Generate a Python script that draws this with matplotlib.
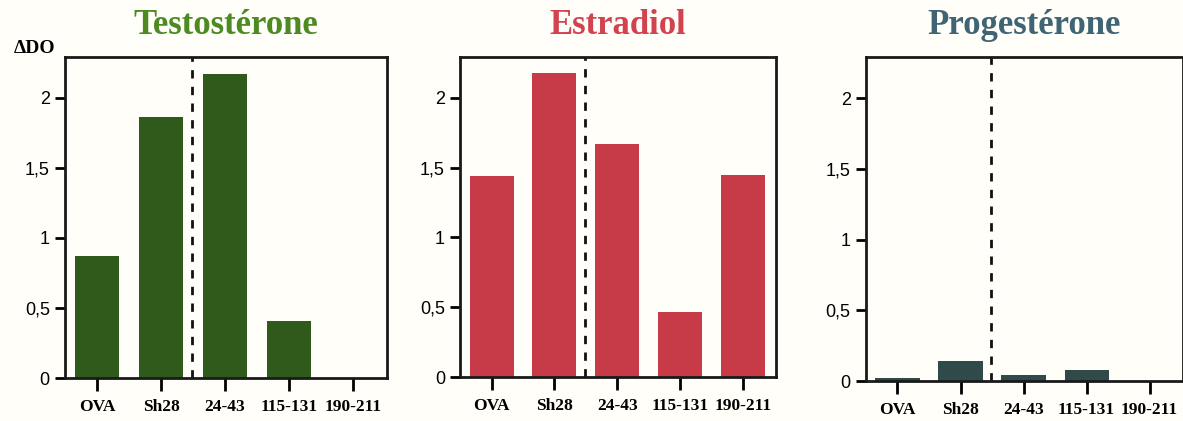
import matplotlib.pyplot as plt

# données : densité optique par peptide pour chaque hormone
peptides = ['OVA', 'Sh28', '24-43', '115-131', '190-211']
testosterone = [0.87, 1.86, 2.17, 0.41, 0.0]
estradiol = [1.44, 2.18, 1.67, 0.47, 1.45]
progesterone = [0.02, 0.14, 0.04, 0.08, 0.0]

titres = ['Testostérone', 'Estradiol', 'Progestérone']
series = [testosterone, estradiol, progesterone]
couleurs_titre = ['#4d8a22', '#d2434f', '#3f6474']
couleurs_barre = ['#2f5a1c', '#c73b49', '#2f4a48']

plt.rcParams['font.family'] = ['Liberation Serif', 'DejaVu Serif']

fig = plt.figure(figsize=(11.83, 4.21), dpi=100)
fig.patch.set_facecolor('#fffef9')

positions = [[0.055, 0.102, 0.272, 0.762],
             [0.389, 0.104, 0.267, 0.760],
             [0.732, 0.095, 0.268, 0.769]]

for k in range(3):
    ax = fig.add_axes(positions[k])
    ax.set_facecolor('#fffef9')
    x = list(range(len(peptides)))
    ax.bar(x, series[k], width=0.7, color=couleurs_barre[k])
    ax.set_xlim(-0.5, 4.53)
    ax.set_ylim(0, 2.29)
    # séparation en pointillés entre témoins et peptides
    ax.axvline(1.48, color='#111111', linestyle=(0, (3, 3)), linewidth=2)
    ax.set_xticks(x)
    ax.set_xticklabels(peptides, fontweight='bold', fontsize=12.5)
    ax.set_yticks([0, 0.5, 1, 1.5, 2])
    ax.set_yticklabels(['0', '0,5', '1', '1,5', '2'], fontsize=13,
                       family=['Liberation Sans', 'DejaVu Sans'])
    ax.tick_params(axis='x', direction='out', length=9, width=2, pad=6)
    ax.tick_params(axis='y', direction='out', length=7, width=2, pad=4)
    for s in ax.spines.values():
        s.set_linewidth(2)
        s.set_color('#1a1a1a')
    ax.set_title(titres[k], color=couleurs_titre[k], fontsize=25,
                 fontweight='bold', pad=17)
    if k == 0:
        ax.text(-0.03, 1.0, 'ΔDO', transform=ax.transAxes, ha='right',
                va='bottom', fontsize=14, fontweight='bold')

plt.savefig('out.png', dpi=100, facecolor=fig.get_facecolor())
